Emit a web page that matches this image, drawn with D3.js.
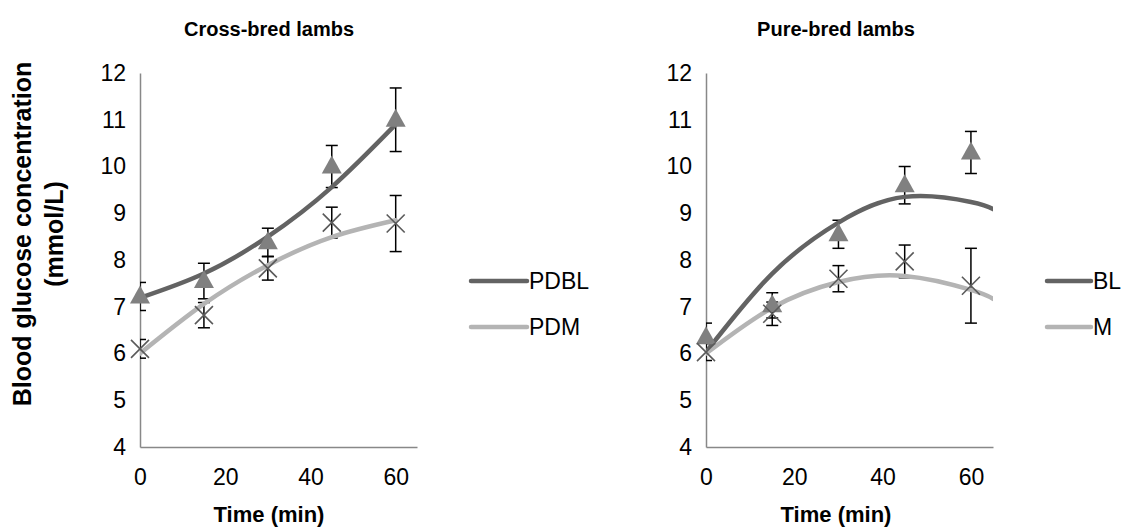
<!DOCTYPE html>
<html>
<head>
<meta charset="utf-8">
<script src="https://cdn.jsdelivr.net/npm/d3@7"></script>
<style>
  html, body { margin: 0; padding: 0; background: #fff; }
  text { font-family: "Liberation Sans", Arial, sans-serif; fill: #000; }
</style>
</head>
<body>
<div id="chart"></div>
<script>
// sampling times (min)
var time = [0, 15, 30, 45, 60];
var xTicks = [0, 20, 40, 60];
var yTicks = [4, 5, 6, 7, 8, 9, 10, 11, 12];

// cross-bred lambs
var pdbl = [7.22, 7.55, 8.38, 10.0, 11.0];
var pdblErr = [0.3, 0.38, 0.3, 0.45, 0.68];
var pdm = [6.1, 6.82, 7.82, 8.8, 8.78];
var pdmErr = [0.2, 0.27, 0.25, 0.33, 0.6];

// pure-bred lambs
var bl = [6.35, 7.03, 8.55, 9.6, 10.3];
var blErr = [0.3, 0.27, 0.3, 0.4, 0.45];
var m = [6.03, 6.85, 7.6, 7.97, 7.45];
var mErr = [0.18, 0.25, 0.28, 0.35, 0.8];

// polynomial trend lines
var crossTrendTime = [0, 15, 30, 45, 60];
var pdblTrend = [7.19, 7.71, 8.5, 9.56, 10.9];
var pdmTrend = [6.0, 7.06, 7.89, 8.49, 8.85];
var pureTrendTime = [0, 15, 30, 45, 60, 65];
var blTrend = [6.03, 7.71, 8.8, 9.35, 9.24, 9.09];
var mTrend = [6.0, 6.98, 7.53, 7.66, 7.36, 7.17];

var darkColor = '#636363';
var lightColor = '#b4b4b4';
var tickFont = 23;
var titleFont = 20;
var axisTitleFont = 22;

var svg = d3.select('#chart')
  .append('svg')
  .attr('width', 1142)
  .attr('height', 532);

var defs = svg.append('defs');

function drawPanel(cfg) {
  var x = d3.scaleLinear().domain([0, 65]).range([cfg.left, cfg.right]);
  var y = d3.scaleLinear().domain([4, 12]).range([447, 73]);

  var g = svg.append('g');

  defs.append('clipPath')
    .attr('id', cfg.id + '-clip')
    .append('rect')
    .attr('x', cfg.left)
    .attr('y', 60)
    .attr('width', cfg.right - cfg.left)
    .attr('height', 400);

  // title
  g.append('text')
    .attr('x', cfg.titleX)
    .attr('y', 36)
    .attr('text-anchor', 'middle')
    .style('font-size', titleFont + 'px')
    .style('font-weight', 'bold')
    .text(cfg.title);

  // axes
  var yAxis = g.append('g')
    .attr('transform', 'translate(' + cfg.left + ',0)')
    .call(d3.axisLeft(y).tickValues(yTicks).tickSize(0).tickPadding(14));
  var xAxis = g.append('g')
    .attr('transform', 'translate(0,447)')
    .call(d3.axisBottom(x).tickValues(xTicks).tickSize(0).tickPadding(22));

  [yAxis, xAxis].forEach(function(a) {
    a.select('.domain').attr('stroke', '#888').attr('stroke-width', 1.5);
    a.selectAll('text')
      .style('font-size', tickFont + 'px')
      .style('font-family', '"Liberation Sans", Arial, sans-serif')
      .attr('fill', '#000');
  });

  g.append('text')
    .attr('x', cfg.titleX)
    .attr('y', 522)
    .attr('text-anchor', 'middle')
    .style('font-size', axisTitleFont + 'px')
    .style('font-weight', 'bold')
    .text('Time (min)');

  var line = d3.line()
    .x(function(d) { return x(d[0]); })
    .y(function(d) { return y(d[1]); })
    .curve(d3.curveNatural);

  var clipped = g.append('g').attr('clip-path', 'url(#' + cfg.id + '-clip)');

  // error bars
  cfg.series.forEach(function(s) {
    var eb = clipped.append('g')
      .attr('stroke', '#000')
      .attr('stroke-width', 1.5)
      .selectAll('g')
      .data(time.map(function(t, i) { return { t: t, v: s.values[i], e: s.err[i] }; }))
      .enter()
      .append('g');
    eb.append('line')
      .attr('x1', function(d) { return x(d.t); })
      .attr('x2', function(d) { return x(d.t); })
      .attr('y1', function(d) { return y(d.v - d.e); })
      .attr('y2', function(d) { return y(d.v + d.e); });
    [-1, 1].forEach(function(sign) {
      eb.append('line')
        .attr('x1', function(d) { return x(d.t) - 6; })
        .attr('x2', function(d) { return x(d.t) + 6; })
        .attr('y1', function(d) { return y(d.v + sign * d.e); })
        .attr('y2', function(d) { return y(d.v + sign * d.e); });
    });
  });

  // trend lines
  cfg.series.forEach(function(s) {
    clipped.append('path')
      .datum(cfg.trendTime.map(function(t, i) { return [t, s.trend[i]]; }))
      .attr('d', line)
      .attr('fill', 'none')
      .attr('stroke', s.color)
      .attr('stroke-width', 4.5)
      .attr('stroke-linecap', 'round');
  });

  // markers
  cfg.series.forEach(function(s) {
    var pts = g.append('g')
      .selectAll('g')
      .data(time.map(function(t, i) { return { t: t, v: s.values[i] }; }))
      .enter()
      .append('g')
      .attr('transform', function(d) { return 'translate(' + x(d.t) + ',' + y(d.v) + ')'; });
    if (s.marker === 'triangle') {
      pts.append('path')
        .attr('d', 'M0,-11L10,7L-10,7Z')
        .attr('fill', '#808080');
    } else {
      pts.append('path')
        .attr('d', 'M-9,-9L9,9M-9,9L9,-9')
        .attr('stroke', '#5a5a5a')
        .attr('stroke-width', 1.6)
        .attr('fill', 'none');
    }
  });

  // legend
  var leg = g.append('g')
    .selectAll('g')
    .data(cfg.series)
    .enter()
    .append('g')
    .attr('transform', function(d, i) { return 'translate(' + cfg.legendX + ',' + (281 + i * 46) + ')'; });
  leg.append('line')
    .attr('x1', 0)
    .attr('x2', cfg.legendLen)
    .attr('stroke', function(d) { return d.color; })
    .attr('stroke-width', 4.5)
    .attr('stroke-linecap', 'round');
  leg.append('text')
    .attr('x', cfg.legendLen + 2)
    .attr('dy', '0.35em')
    .style('font-size', tickFont + 'px')
    .text(function(d) { return d.name; });
}

drawPanel({
  id: 'cross',
  title: 'Cross-bred lambs',
  titleX: 269,
  left: 140,
  right: 417,
  legendX: 471,
  legendLen: 56,
  trendTime: crossTrendTime,
  series: [
    { name: 'PDBL', values: pdbl, err: pdblErr, trend: pdblTrend, color: darkColor, marker: 'triangle' },
    { name: 'PDM', values: pdm, err: pdmErr, trend: pdmTrend, color: lightColor, marker: 'x' }
  ]
});

drawPanel({
  id: 'pure',
  title: 'Pure-bred lambs',
  titleX: 836,
  left: 706,
  right: 993,
  legendX: 1047,
  legendLen: 44,
  trendTime: pureTrendTime,
  series: [
    { name: 'BL', values: bl, err: blErr, trend: blTrend, color: darkColor, marker: 'triangle' },
    { name: 'M', values: m, err: mErr, trend: mTrend, color: lightColor, marker: 'x' }
  ]
});

// shared y-axis title
var yTitle = svg.append('text')
  .attr('transform', 'translate(22,234) rotate(-90)')
  .attr('text-anchor', 'middle')
  .style('font-size', '25px')
  .style('font-weight', 'bold');
yTitle.append('tspan')
  .attr('x', 0)
  .attr('dy', '0.35em')
  .text('Blood glucose concentration');
yTitle.append('tspan')
  .attr('x', 0)
  .attr('dy', '1.3em')
  .text('(mmol/L)');
</script>
</body>
</html>
